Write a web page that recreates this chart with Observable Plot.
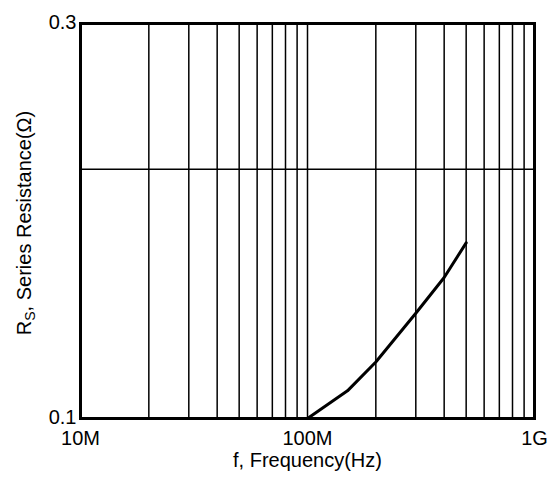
<!DOCTYPE html>
<html>
<head>
<meta charset="utf-8">
<script src="https://cdn.jsdelivr.net/npm/d3@7"></script>
<script src="https://cdn.jsdelivr.net/npm/@observablehq/plot@0.6"></script>
<style>
  html, body { margin: 0; padding: 0; background: #fff; }
  #chart svg { display: block; }
</style>
</head>
<body>
<div id="chart"></div>
<script>
// Data
const freqHz = [100e6, 150e6, 200e6, 300e6, 400e6, 500e6];
const resistanceOhm = [0.100, 0.108, 0.117, 0.134, 0.148, 0.163];

// Axis ticks and labels
const xTicks = [1e7, 1e8, 1e9];
const xTickLabels = ["10M", "100M", "1G"];
const yTicks = [0.1, 0.3];
const yTickLabels = ["0.1", "0.3"];
const xGrid = [2e7, 3e7, 4e7, 5e7, 6e7, 7e7, 8e7, 9e7, 1e8, 2e8, 3e8, 4e8, 5e8, 6e8, 7e8, 8e8, 9e8];
const yGrid = [0.2];
const xLabel = "f, Frequency(Hz)";

const data = freqHz.map((f, i) => ({f, r: resistanceOhm[i]}));

const chart = Plot.plot({
  width: 553,
  height: 477,
  marginLeft: 80,
  marginRight: 19,
  marginTop: 23,
  marginBottom: 59,
  style: {fontFamily: "'Liberation Sans', Arial, sans-serif", fontSize: "20px", color: "#000", background: "#fff"},
  x: {type: "log", domain: [1e7, 1e9]},
  y: {type: "log", domain: [0.1, 0.3]},
  marks: [
    Plot.ruleX(xGrid, {stroke: "#000", strokeWidth: 1.5}),
    Plot.ruleY(yGrid, {stroke: "#000", strokeWidth: 1.5}),
    Plot.line(data, {x: "f", y: "r", stroke: "#000", strokeWidth: 3}),
    Plot.frame({stroke: "#000", strokeWidth: 3}),
    Plot.axisX({ticks: xTicks, tickFormat: (d) => xTickLabels[xTicks.indexOf(d)], tickSize: 0, tickPadding: 12, fontSize: 20, label: xLabel, labelAnchor: "center", labelArrow: "none", labelOffset: 48}),
    Plot.axisY({ticks: yTicks, tickFormat: (d) => yTickLabels[yTicks.indexOf(d)], tickSize: 0, tickPadding: 4, dy: -1, fontSize: 20, label: null})
  ]
});

// Rotated y-axis title with subscript
const svg = d3.select(chart);
const t = svg.append("text")
  .attr("transform", "translate(31,223) rotate(-90)")
  .attr("text-anchor", "middle")
  .attr("font-size", 20)
  .attr("fill", "#000");
t.append("tspan").text("R");
t.append("tspan").attr("font-size", 14).attr("dy", 4).text("S");
t.append("tspan").attr("dy", -4).text(", Series Resistance(Ω)");

document.getElementById("chart").appendChild(chart);
</script>
</body>
</html>
